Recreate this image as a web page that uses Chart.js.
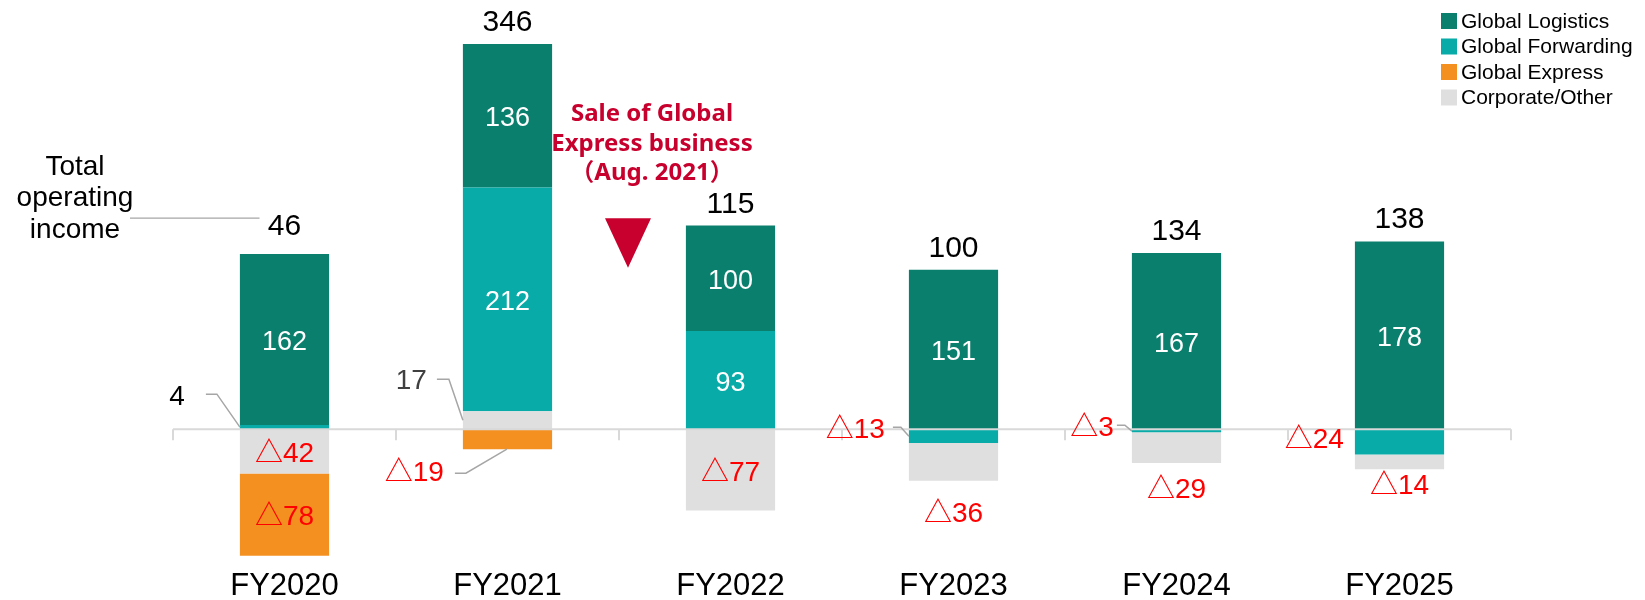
<!DOCTYPE html>
<html>
<head>
<meta charset="utf-8">
<title>Operating income by segment</title>
<script src="https://cdn.jsdelivr.net/npm/chart.js@4.4.1/dist/chart.umd.min.js"></script>
<style>
    html, body { margin: 0; padding: 0; background: #fff; }
    canvas { display: block; }
</style>
</head>
<body>
<canvas id="chart" width="1645" height="600"></canvas>
<script>
const years = ["FY2020", "FY2021", "FY2022", "FY2023", "FY2024", "FY2025"];
const logistics = [162, 136, 100, 151, 167, 178];
const forwarding = [4, 212, 93, -13, -3, -24];
const express = [-78, -19, null, null, null, null];
const corporate = [-42, 17, -77, -36, -29, -14];
const totals = [46, 346, 115, 100, 134, 138];

const GREEN = "#0A7F6D";
const TEAL = "#08ABA7";
const ORANGE = "#F39020";
const GREY = "#DFDFDF";
const RED = "#FF0000";
const CRIMSON = "#C8002D";
const LINE = "#A6A6A6";

const SANS = '"Liberation Sans", Arial, "Noto Sans CJK JP", sans-serif';
const font = (size, weight) => `${weight || "normal"} ${size}px ${SANS}`;

// corporate sits above zero in one year and below in the rest, so it is
// split in two to keep the stacking order right on both sides of the axis
const corporateUp = corporate.map(v => v > 0 ? v : null);
const corporateDown = corporate.map(v => v < 0 ? v : null);

// labels too thin to sit inside their segment: offsets from bar left edge / zero line
const outsideLabels = {
    fwd0: { color: "#000", dx: -55, dy: -32, leader: [[-34, -35], [-23, -35], [0, -2]] },
    corpUp1: { color: "#404040", dx: -36, dy: -48, leader: [[-26, -50], [-14, -50], [0, -9]] },
    exp1: { color: RED, dx: -19, dy: 44, leader: [[-8, 44], [3, 44], [44, 20]] },
    fwd3: { color: RED, dx: -24, dy: 1, leader: [[-16, -2], [-8, -2], [0, 7]] },
    fwd4: { color: RED, dx: -18, dy: -1, leader: [[-15, -4], [-7, -4], [0, 2]] },
    fwd5: { color: RED, dx: -11, dy: 11 },
    corpDown3: { color: RED, below: 33 },
    corpDown4: { color: RED, below: 27 },
    corpDown5: { color: RED, below: 17 }
};

const legendOrder = ["Global Logistics", "Global Forwarding", "Global Express", "Corporate/Other"];

function polyline(ctx, pts) {
    ctx.beginPath();
    pts.forEach((p, i) => i ? ctx.lineTo(p[0], p[1]) : ctx.moveTo(p[0], p[1]));
    ctx.stroke();
}

const zeroAxis = {
    id: "zeroAxis",
    afterDatasetsDraw(chart) {
        const { ctx, scales: { x, y } } = chart;
        const zero = y.getPixelForValue(0);
        const step = x.width / years.length;
        ctx.save();
        ctx.strokeStyle = "#D9D9D9";
        ctx.lineWidth = 2;
        polyline(ctx, [[x.left, zero], [x.right, zero]]);
        for (let i = 0; i <= years.length; i++) {
            const px = Math.round(x.left + i * step);
            polyline(ctx, [[px, zero], [px, zero + 11]]);
        }
        ctx.restore();
    }
};

const segmentLabels = {
    id: "segmentLabels",
    afterDatasetsDraw(chart) {
        const { ctx, scales: { y } } = chart;
        const zero = y.getPixelForValue(0);
        ctx.save();
        ctx.textBaseline = "middle";
        chart.data.datasets.forEach((ds, di) => {
            chart.getDatasetMeta(di).data.forEach((bar, i) => {
                const v = ds.data[i];
                if (v === null || v === undefined) return;
                const text = v < 0 ? "△" + Math.abs(v) : String(v);
                const left = bar.x - bar.width / 2;
                const bottom = Math.max(bar.y, bar.base);
                const spot = outsideLabels[ds.key + i];
                if (!spot) {
                    ctx.font = font(v < 0 ? 28 : 27);
                    ctx.fillStyle = v < 0 ? RED : "#FFFFFF";
                    ctx.textAlign = "center";
                    ctx.fillText(text, bar.x, (bar.y + bar.base) / 2 + 3);
                    return;
                }
                ctx.font = font(28);
                ctx.fillStyle = spot.color;
                if (spot.below) {
                    ctx.textAlign = "center";
                    ctx.fillText(text, bar.x, bottom + spot.below);
                    return;
                }
                ctx.textAlign = "right";
                ctx.fillText(text, left + spot.dx, zero + spot.dy);
                if (spot.leader) {
                    ctx.strokeStyle = LINE;
                    ctx.lineWidth = 1.5;
                    polyline(ctx, spot.leader.map(p => [left + p[0], zero + p[1]]));
                }
            });
        });
        ctx.restore();
    }
};

const totalLabels = {
    id: "totalLabels",
    afterDatasetsDraw(chart) {
        const { ctx, scales: { x, y } } = chart;
        ctx.save();
        ctx.font = font(30);
        ctx.fillStyle = "#000";
        ctx.textAlign = "center";
        ctx.textBaseline = "alphabetic";
        totals.forEach((t, i) => {
            const up = [logistics[i], forwarding[i], corporate[i]]
                .filter(v => v > 0).reduce((a, b) => a + b, 0);
            const lift = i === 0 ? 19 : 13;
            ctx.fillText(String(t), x.getPixelForValue(i), y.getPixelForValue(up) - lift);
        });

        // caption for the totals row, tied to the first total
        const firstTop = y.getPixelForValue(logistics[0] + forwarding[0]) - 19;
        const lineY = firstTop - 17;
        ctx.strokeStyle = LINE;
        ctx.lineWidth = 1.2;
        polyline(ctx, [[x.left - 43, lineY], [x.getPixelForValue(0) - 25, lineY]]);
        ctx.font = font(28);
        ctx.textBaseline = "middle";
        ["Total", "operating", "income"].forEach((line, k) => {
            ctx.fillText(line, x.left - 98, lineY - 51 + k * 31.5);
        });
        ctx.restore();
    }
};

const saleNote = {
    id: "saleNote",
    afterDatasetsDraw(chart) {
        const { ctx, scales: { x, y } } = chart;
        const mid = (x.getPixelForValue(1) + x.getPixelForValue(2)) / 2;
        const cx = mid + 9;
        const top = y.getPixelForValue(200);
        const tip = y.getPixelForValue(153);
        ctx.save();
        ctx.fillStyle = CRIMSON;
        ctx.beginPath();
        ctx.moveTo(cx - 23, top);
        ctx.lineTo(cx + 23, top);
        ctx.lineTo(cx, tip);
        ctx.closePath();
        ctx.fill();

        ctx.font = 'bold 24px "Noto Sans", "Noto Sans CJK JP", sans-serif';
        ctx.textAlign = "center";
        ctx.textBaseline = "middle";
        ["Sale of Global", "Express business", "（Aug. 2021）"].forEach((line, k) => {
            ctx.fillText(line, mid + 33, top - 104 + k * 29.5);
        });
        ctx.restore();
    }
};

const boxLegend = {
    id: "boxLegend",
    afterDraw(chart) {
        const { ctx } = chart;
        const x0 = chart.width - 204;
        ctx.save();
        ctx.font = font(21);
        ctx.textBaseline = "middle";
        ctx.textAlign = "left";
        legendOrder.forEach((name, k) => {
            const ds = chart.data.datasets.find(d => d.label === name);
            const cy = 21 + k * 25.5;
            ctx.fillStyle = ds.backgroundColor;
            ctx.fillRect(x0, cy - 8, 16, 16);
            ctx.fillStyle = "#000";
            ctx.fillText(name, x0 + 20, cy + 1);
        });
        ctx.restore();
    }
};

new Chart(document.getElementById("chart"), {
    type: "bar",
    data: {
        labels: years,
        datasets: [
            { key: "corpUp", label: "Corporate/Other", data: corporateUp, backgroundColor: GREY },
            { key: "fwd", label: "Global Forwarding", data: forwarding, backgroundColor: TEAL },
            { key: "log", label: "Global Logistics", data: logistics, backgroundColor: GREEN },
            { key: "corpDown", label: "Corporate/Other", data: corporateDown, backgroundColor: GREY },
            { key: "exp", label: "Global Express", data: express, backgroundColor: ORANGE }
        ]
    },
    options: {
        responsive: false,
        animation: false,
        layout: { padding: { left: 173, right: 134, top: 23, bottom: 0 } },
        datasets: {
            bar: { barPercentage: 0.4, categoryPercentage: 1.0, borderWidth: 0 }
        },
        scales: {
            x: {
                stacked: true,
                grid: { display: false, drawTicks: false },
                border: { display: false },
                afterFit(scale) { scale.height = 40; },
                ticks: {
                    padding: 8,
                    maxRotation: 0,
                    color: "#000",
                    font: { family: SANS, size: 31 }
                }
            },
            y: {
                stacked: true,
                display: false,
                min: -124,
                max: 385
            }
        },
        plugins: {
            legend: { display: false },
            tooltip: { enabled: false }
        }
    },
    plugins: [zeroAxis, segmentLabels, totalLabels, saleNote, boxLegend]
});
</script>
</body>
</html>
